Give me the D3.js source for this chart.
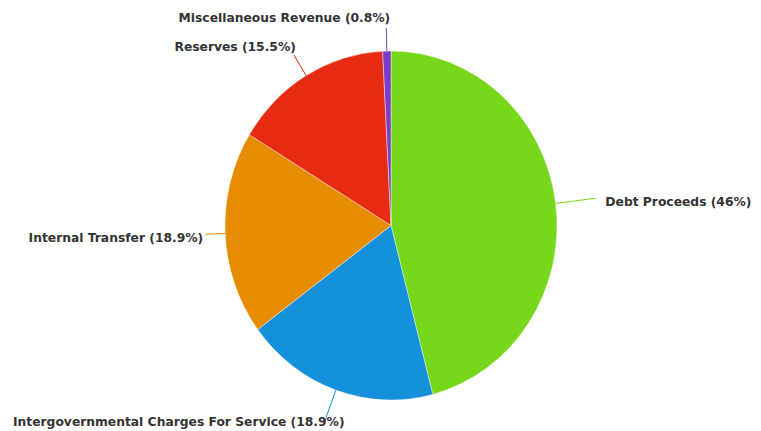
<!DOCTYPE html>
<html>
<head>
<meta charset="utf-8">
<script src="https://cdn.jsdelivr.net/npm/d3@7"></script>
<style>
  html, body { margin: 0; padding: 0; background: #fff; }
  svg { display: block; }
  .slice-label { font-family: "DejaVu Sans", Verdana, sans-serif; font-weight: bold; font-size: 12.3px; fill: #333; }
</style>
</head>
<body>
<svg id="chart" width="761" height="431"></svg>
<script>
// Revenue sources (percent of total), in drawing order clockwise from 12 o'clock
const categories = [
  "Debt Proceeds",
  "Intergovernmental Charges For Service",
  "Internal Transfer",
  "Reserves",
  "Miscellaneous Revenue"
];
const shares = [46, 18.9, 18.9, 15.5, 0.8];
const shareLabels = ["46%", "18.9%", "18.9%", "15.5%", "0.8%"];
const colors = ["#77d81b", "#1591dc", "#e68c00", "#e62b12", "#7b3dc8"];

// Label leader-line lengths and text placement per slice
const labelLayout = {
  "Debt Proceeds":                         { len: 40, anchor: "start", dx: 10, dy: 8 },
  "Intergovernmental Charges For Service": { len: 33, anchor: "start", dx: 0,  dy: 5, clampLeft: 13 },
  "Internal Transfer":                     { len: 20, anchor: "end",   dx: -2, dy: 8 },
  "Reserves":                              { len: 24, anchor: "end",   dx: 2,  dy: -4 },
  "Miscellaneous Revenue":                 { len: 23, anchor: "end",   dx: 4,  dy: -6 }
};

const width = 761, height = 431;
const cx = 391, cy = 225.5;
const rx = 166, ry = 174.5;     // pie is drawn slightly taller than wide

const svg = d3.select("#chart");

const data = categories.map((c, i) => ({ name: c, value: shares[i], label: shareLabels[i], color: colors[i] }));

const pie = d3.pie().sort(null).value(d => d.value);
const arcs = pie(data);

const arc = d3.arc().innerRadius(0).outerRadius(rx);

const pieG = svg.append("g")
  .attr("transform", `translate(${cx},${cy}) scale(1,${ry / rx})`);

pieG.selectAll("path")
  .data(arcs)
  .join("path")
  .attr("d", arc)
  .attr("fill", d => d.data.color)
  .attr("stroke", "#ffffff")
  .attr("stroke-width", 0.4);

// point on the (elliptical) rim at an angle measured clockwise from 12 o'clock
function rimPoint(angle, extra) {
  return [cx + (rx + extra) * Math.sin(angle), cy - (ry + extra) * Math.cos(angle)];
}

const labelG = svg.append("g");

arcs.forEach(a => {
  const lay = labelLayout[a.data.name];
  const mid = (a.startAngle + a.endAngle) / 2;
  const p0 = rimPoint(mid, 0);
  const p1 = rimPoint(mid, lay.len);

  labelG.append("line")
    .attr("x1", p0[0]).attr("y1", p0[1])
    .attr("x2", p1[0]).attr("y2", p1[1])
    .attr("stroke", a.data.color)
    .attr("stroke-width", 1);

  const t = labelG.append("text")
    .attr("class", "slice-label")
    .attr("text-anchor", lay.anchor)
    .attr("x", p1[0] + lay.dx)
    .attr("y", p1[1] + lay.dy)
    .text(`${a.data.name} (${a.data.label})`);

  if (lay.clampLeft !== undefined) {
    // keep long labels inside the drawing area
    t.attr("text-anchor", "start").attr("x", lay.clampLeft);
  }
});
</script>
</body>
</html>
